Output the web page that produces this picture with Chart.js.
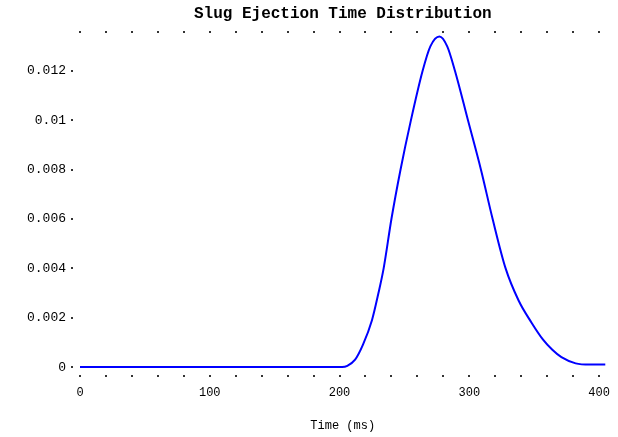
<!DOCTYPE html>
<html>
<head>
<meta charset="utf-8">
<script src="https://cdn.jsdelivr.net/npm/chart.js@4/dist/chart.umd.min.js"></script>
<style>
  html, body { margin: 0; padding: 0; background: #fff; }
  #wrap { width: 618px; height: 437px; }
</style>
</head>
<body>
<div id="wrap"><canvas id="c" width="618" height="437"></canvas></div>
<script>
const chartTitle = 'Slug Ejection Time Distribution';
const xAxisTitle = 'Time (ms)';
const timeValues = [0, 100, 202, 206, 212, 218, 225, 230, 234, 240, 247, 255, 264, 270, 277, 283, 289, 299, 309, 318, 328, 338, 348, 357, 364, 371, 382, 393, 405];
const densityValues = [0, 0, 0, 0.00005, 0.0003, 0.0009, 0.0019, 0.003, 0.004, 0.006, 0.008, 0.010, 0.012, 0.0130, 0.0134, 0.0130, 0.012, 0.010, 0.008, 0.006, 0.004, 0.0027, 0.0018, 0.0011, 0.0007, 0.0004, 0.00015, 0.0001, 0.0001];
const yTickValues = [0, 0.002, 0.004, 0.006, 0.008, 0.01, 0.012];
const xLabelValues = [0, 100, 200, 300, 400];

const points = timeValues.map((t, i) => ({ x: t, y: densityValues[i] }));
const monoFamily = "'Liberation Mono', 'DejaVu Sans Mono', monospace";
const tickFont = { family: monoFamily, size: 12 };

function xTicks(s) { const t = []; for (let v = 0; v <= 400; v += 20) t.push({ value: v }); s.ticks = t; }

new Chart(document.getElementById('c'), {
  type: 'line',
  data: {
    datasets: [{
      data: points,
      borderColor: '#0000ff',
      borderWidth: 2,
      pointRadius: 0,
      fill: false,
      cubicInterpolationMode: 'monotone'
    }]
  },
  options: {
    responsive: false,
    animation: false,
    layout: { padding: { left: 0, right: 12, top: 0, bottom: 0 } },
    plugins: { legend: { display: false }, tooltip: { enabled: false }, title: { display: false } },
    scales: {
      x: {
        type: 'linear', position: 'bottom', min: 0, max: 405,
        afterBuildTicks: xTicks,
        afterFit: (s) => { s.height = 65; },
        ticks: {
          color: '#000', font: tickFont, padding: 8, maxRotation: 0, autoSkip: false,
          callback: (v) => xLabelValues.includes(v) ? String(v) : ''
        },
        grid: { drawOnChartArea: false, drawTicks: true, tickLength: 6, tickBorderDash: [2, 20], tickBorderDashOffset: 19, color: '#333', lineWidth: 2 },
        border: { display: false },
        title: { display: true, text: xAxisTitle, color: '#000', font: tickFont, padding: { top: 0, bottom: 4 } }
      },
      x2: {
        type: 'linear', position: 'top', min: 0, max: 405,
        afterBuildTicks: xTicks,
        afterFit: (s) => { s.height = 34; },
        ticks: { display: false },
        grid: { drawOnChartArea: false, drawTicks: true, tickLength: 3, tickBorderDash: [2, 20], color: '#333', lineWidth: 2 },
        border: { display: false },
        title: { display: true, text: chartTitle, color: '#000', font: { family: monoFamily, size: 16, weight: 'bold' }, padding: { top: 4, bottom: 0 } }
      },
      y: {
        type: 'linear', position: 'left', min: -0.0002, max: 0.0135,
        afterBuildTicks: (s) => { s.ticks = yTickValues.map(v => ({ value: v })); },
        afterFit: (s) => { s.width = 80; },
        ticks: { color: '#000', font: { family: monoFamily, size: 13 }, padding: 5, callback: (v) => String(Number(v.toFixed(3))) },
        grid: { drawOnChartArea: false, drawTicks: true, tickLength: 9, tickBorderDash: [2, 20], color: '#333', lineWidth: 2 },
        border: { display: false }
      }
    }
  }
});
</script>
</body>
</html>
